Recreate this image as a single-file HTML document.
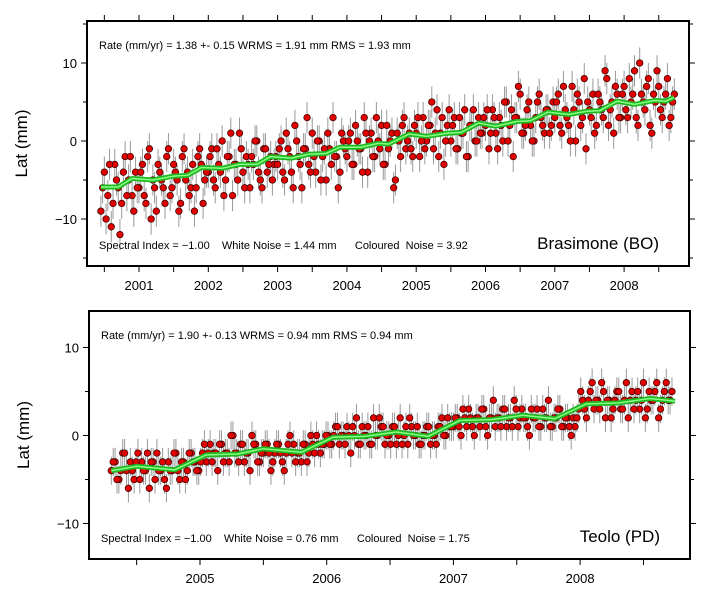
<!DOCTYPE html>
<html><head><meta charset="utf-8"><style>
body{margin:0;background:#fff;}
svg text{font-family:"Liberation Sans",sans-serif;}
</style></head><body>
<svg id="c" width="705" height="593" xmlns="http://www.w3.org/2000/svg"></svg>
<script>
// ---- Panel 1 data (Brasimone) ----
const topTrendT=[2000.45,2000.7,2000.9,2001.2,2001.5,2001.7,2001.9,2002.2,2002.45,2002.7,2002.9,2003.2,2003.45,2003.7,2003.9,2004.2,2004.45,2004.6,2004.9,2005.15,2005.45,2005.65,2005.9,2006.15,2006.45,2006.65,2006.9,2007.2,2007.45,2007.65,2007.9,2008.15,2008.45,2008.6,2008.72];
const topTrendV=[-5.9,-5.9,-4.8,-5.0,-4.5,-4.4,-3.4,-3.5,-3.0,-3.0,-2.0,-2.2,-1.7,-1.6,-0.8,-0.8,-0.3,-0.4,0.9,0.6,1.0,1.1,2.3,1.9,2.5,2.6,3.7,3.4,3.8,3.9,5.1,4.7,5.2,5.1,5.6];
const topStart=2000.45, topStep=0.05;
const topObs=[-9,-4,-7,-11,-3,-6,-8,-2,-5,-7,-4,
-6,-3,-8,-1,-5,-9,-4,-6,-2,-7,-3,-5,-8,-1,-4,-6,-9,-2,-3,-5,
-4,-1,-6,-3,0,-5,-2,-7,-3,1,-4,-2,-6,-3,0,-5,-1,-4,-2,-3,
-3,0,-5,-1,-4,2,-2,-6,-1,-3,1,-4,0,-2,-5,-1,3,-2,-4,0,
-2,1,-3,0,-1,3,-4,1,-2,0,2,-3,-1,1,-5,0,2,-1,1,-2,
1,-2,3,0,2,-1,4,1,-3,2,0,3,-1,1,4,-2,2,0,3,1,
2,-1,4,1,3,0,5,2,-2,3,6,1,4,2,0,5,3,1,4,2,
3,6,1,4,2,7,0,5,3,-1,4,6,2,5,3,8,4,1,6,3,
7,3,5,9,2,6,4,8,1,5,7,3,6,2,5];
const topObs2=[-6,-10,-3,-8,-5,-12,-4,-7,-2,-9,-6,
-4,-7,-2,-10,-6,-3,-5,-8,-1,-6,-4,-9,-2,-5,-7,-3,-6,-1,-8,-4,
-2,-5,-1,-4,-7,-2,1,-3,-5,-1,-6,-3,-2,0,-4,-6,-1,-3,-5,-2,
-1,-4,1,-2,-6,0,-3,-1,3,-4,-2,0,-5,-1,1,-3,-2,-6,1,-1,
0,-3,2,-1,-4,1,0,-2,3,-1,-3,2,0,-6,1,-2,3,0,-1,2,
3,0,-1,2,5,1,-2,3,0,4,2,-1,3,1,-2,2,4,0,1,3,
4,1,3,-1,2,5,0,4,3,7,1,2,5,0,3,6,2,4,1,5,
5,2,7,3,0,4,6,2,8,5,3,1,6,4,9,2,5,7,3,6,
4,8,6,3,10,5,7,2,6,9,4,5,8,3,6];
const topYears=[2001,2002,2003,2004,2005,2006,2007,2008];
const yTicks=[-10,0,10];
// ---- Panel 2 data (Teolo) ----
const botTrendT=[2004.3,2004.5,2004.8,2005.05,2005.3,2005.5,2005.8,2006.05,2006.3,2006.55,2006.8,2007.05,2007.3,2007.55,2007.8,2008.05,2008.3,2008.55,2008.75];
const botTrendV=[-4.0,-3.5,-3.9,-2.2,-2.1,-1.5,-1.9,-0.2,-0.1,0.4,-0.1,1.7,1.8,2.3,1.9,3.6,3.7,4.2,3.9];
const botStart=2004.30, botStep=0.03;
const botObs=[-4,-3,-5,-2,-4,-3,-5,-2,-3,-4,-6,-3,-2,-4,-5,-3,-4,-2,-5,-3,-4,-2,-3,-4,
-2,-3,-1,-2,-4,-1,-2,-3,0,-2,-1,-3,-2,0,-1,-3,-2,-1,-4,-2,-1,-3,-2,0,-1,-2,-3,-1,-2,-1,0,-2,-1,
0,-1,1,-1,0,1,-2,0,-1,1,0,-1,2,0,1,-1,0,1,-1,2,0,-1,1,0,-1,0,1,-1,0,1,2,0,1,
1,2,0,2,3,1,2,1,3,0,2,1,2,3,1,2,4,1,3,2,0,2,3,1,2,4,1,2,3,1,2,0,1,
3,4,2,5,3,4,6,2,4,3,5,3,4,2,5,4,3,6,3,4,5,2,4,6,4];
const botObs2=[-3,-5,-4,-2,-6,-4,-3,-5,-4,-2,-3,-5,-4,-3,-6,-4,-2,-4,-3,-5,-2,-3,-4,-3,
-1,-2,-3,-2,-1,-3,-2,0,-2,-3,-1,-2,-4,-1,-3,-2,-1,-2,-3,-1,-2,-4,-1,-2,-3,-2,-1,-3,0,-2,-1,-1,0,
-1,0,1,0,-1,0,1,2,-1,0,1,-1,0,2,1,0,-1,1,0,-1,1,2,0,1,-1,0,1,0,-1,1,0,2,1,
2,1,3,1,2,0,2,3,1,2,4,2,1,3,2,1,3,2,2,1,3,2,1,3,2,1,2,3,1,2,1,2,2,
5,3,4,6,4,3,5,4,2,4,5,3,6,4,3,5,4,2,5,4,6,3,5,4,5];
const botYears=[2005,2006,2007,2008];

const NS="http://www.w3.org/2000/svg";
const svg=document.getElementById('c');
function mk(tag,attrs,parent){const e=document.createElementNS(NS,tag);for(const k in attrs)e.setAttribute(k,attrs[k]);(parent||svg).appendChild(e);return e;}

function panel(cfg){
  const g=mk('g',{});
  
  
  const X=t=>cfg.x0+(t-cfg.t0)*cfg.pxYr;
  const Y=v=>cfg.y0-v*cfg.pxMm;
  const series=[[cfg.obs,cfg.start],[cfg.obs2,cfg.start+cfg.step/2]];
  series.forEach(([arr,st])=>arr.forEach((v,i)=>{
    const t=st+i*cfg.step;
    const b=mk('line',{x1:X(t),x2:X(t),y1:Y(v+cfg.err),y2:Y(v-cfg.err),stroke:'#999','stroke-width':1},g);
    
    
  }));
  series.forEach(([arr,st])=>arr.forEach((v,i)=>{
    const t=st+i*cfg.step;
    const c=mk('circle',{cx:X(t),cy:Y(v),r:3.3,fill:'#e00000',stroke:'#300','stroke-width':0.7},g);
    
    
  }));
  const pts=cfg.tt.map((t,i)=>X(t)+','+Y(cfg.tv[i])).join(' ');
  const l1=mk('polyline',{points:pts,fill:'none',stroke:'#1fb81f','stroke-width':5,'stroke-linejoin':'round'},g);
  
  
  const l2=mk('polyline',{points:pts,fill:'none',stroke:'#8f8','stroke-width':1.5},g);
  
  
  const f=mk('rect',{x:cfg.L,y:cfg.T,width:cfg.R-cfg.L,height:cfg.B-cfg.T,fill:'none',stroke:'#000','stroke-width':2},g);
  
  
  cfg.yticks.forEach(v=>{
    mk('line',{x1:cfg.L-6,x2:cfg.L,y1:Y(v),y2:Y(v),stroke:'#000'},g);
    mk('line',{x1:cfg.R,x2:cfg.R+6,y1:Y(v),y2:Y(v),stroke:'#000'},g);
    const tx=mk('text',{x:cfg.L-10,y:Y(v)+5,'text-anchor':'end','font-size':13},g);
    tx.textContent=v===-10?'\u221210':String(v);
    
    
  });
  [-15,-5,5,15].forEach(v=>{const yy=Y(v);if(yy>cfg.T&&yy<cfg.B){mk('line',{x1:cfg.L-4,x2:cfg.L,y1:yy,y2:yy,stroke:'#000'},g);mk('line',{x1:cfg.R,x2:cfg.R+4,y1:yy,y2:yy,stroke:'#000'},g);}});
  cfg.years.forEach(yr=>{
    [yr,yr-0.5].forEach(t=>{const xx=X(t);if(xx>cfg.L&&xx<cfg.R){
      mk('line',{x1:xx,x2:xx,y1:cfg.B,y2:cfg.B+6,stroke:'#000'},g);
      if(cfg.topTicks)mk('line',{x1:xx,x2:xx,y1:cfg.T-6,y2:cfg.T,stroke:'#000'},g);}});
    const tx=mk('text',{x:X(yr),y:cfg.B+24,'text-anchor':'middle','font-size':13},g);
    tx.textContent=yr;
    
    
  });
  if(cfg.lastHalf){const xx=X(cfg.lastHalf);mk('line',{x1:xx,x2:xx,y1:cfg.B,y2:cfg.B+6,stroke:'#000'},g);if(cfg.topTicks)mk('line',{x1:xx,x2:xx,y1:cfg.T-6,y2:cfg.T,stroke:'#000'},g);}
  const yl=mk('text',{x:0,y:0,'text-anchor':'middle','font-size':17,transform:`translate(${cfg.L-60},${(cfg.T+cfg.B)/2}) rotate(-90)`},g);
  yl.textContent='Lat (mm)';
  
  
  const t1=mk('text',{x:cfg.L+12,y:cfg.T+28,'font-size':11},g);
  t1.textContent=cfg.rate;
  
  
  const t2=mk('text',{x:cfg.L+12,y:cfg.B-17,'font-size':11},g);
  t2.textContent=cfg.noise;
  t2.setAttribute('style','white-space:pre');
  
  
  const t3=mk('text',{x:cfg.R-30,y:cfg.B-17,'text-anchor':'end','font-size':17},g);
  t3.textContent=cfg.station;
  
  
}

panel({name:'brasimone-panel',L:87,R:689,T:21,B:266,x0:139,t0:2001,pxYr:69.3,y0:141,pxMm:7.8,
  start:topStart,step:topStep,obs:topObs,obs2:topObs2,err:2,tt:topTrendT,tv:topTrendV,years:topYears,yticks:yTicks,topTicks:true,lastHalf:2008.5,
  rate:'Rate (mm/yr) = 1.38 +- 0.15  WRMS = 1.91 mm RMS = 1.93 mm',
  noise:'Spectral Index = \u22121.00    White Noise = 1.44 mm      Coloured  Noise = 3.92',station:'Brasimone (BO)'});
panel({name:'teolo-panel',L:89,R:690,T:311,B:559,x0:200,t0:2005,pxYr:126.7,y0:435.5,pxMm:8.8,
  start:botStart,step:botStep,obs:botObs,obs2:botObs2,err:1.6,tt:botTrendT,tv:botTrendV,years:botYears,yticks:yTicks,topTicks:false,lastHalf:2008.5,
  rate:'Rate (mm/yr) = 1.90 +- 0.13  WRMS = 0.94 mm RMS = 0.94 mm',
  noise:'Spectral Index = \u22121.00    White Noise = 0.76 mm      Coloured  Noise = 1.75',station:'Teolo (PD)'});
</script>
</body></html>
